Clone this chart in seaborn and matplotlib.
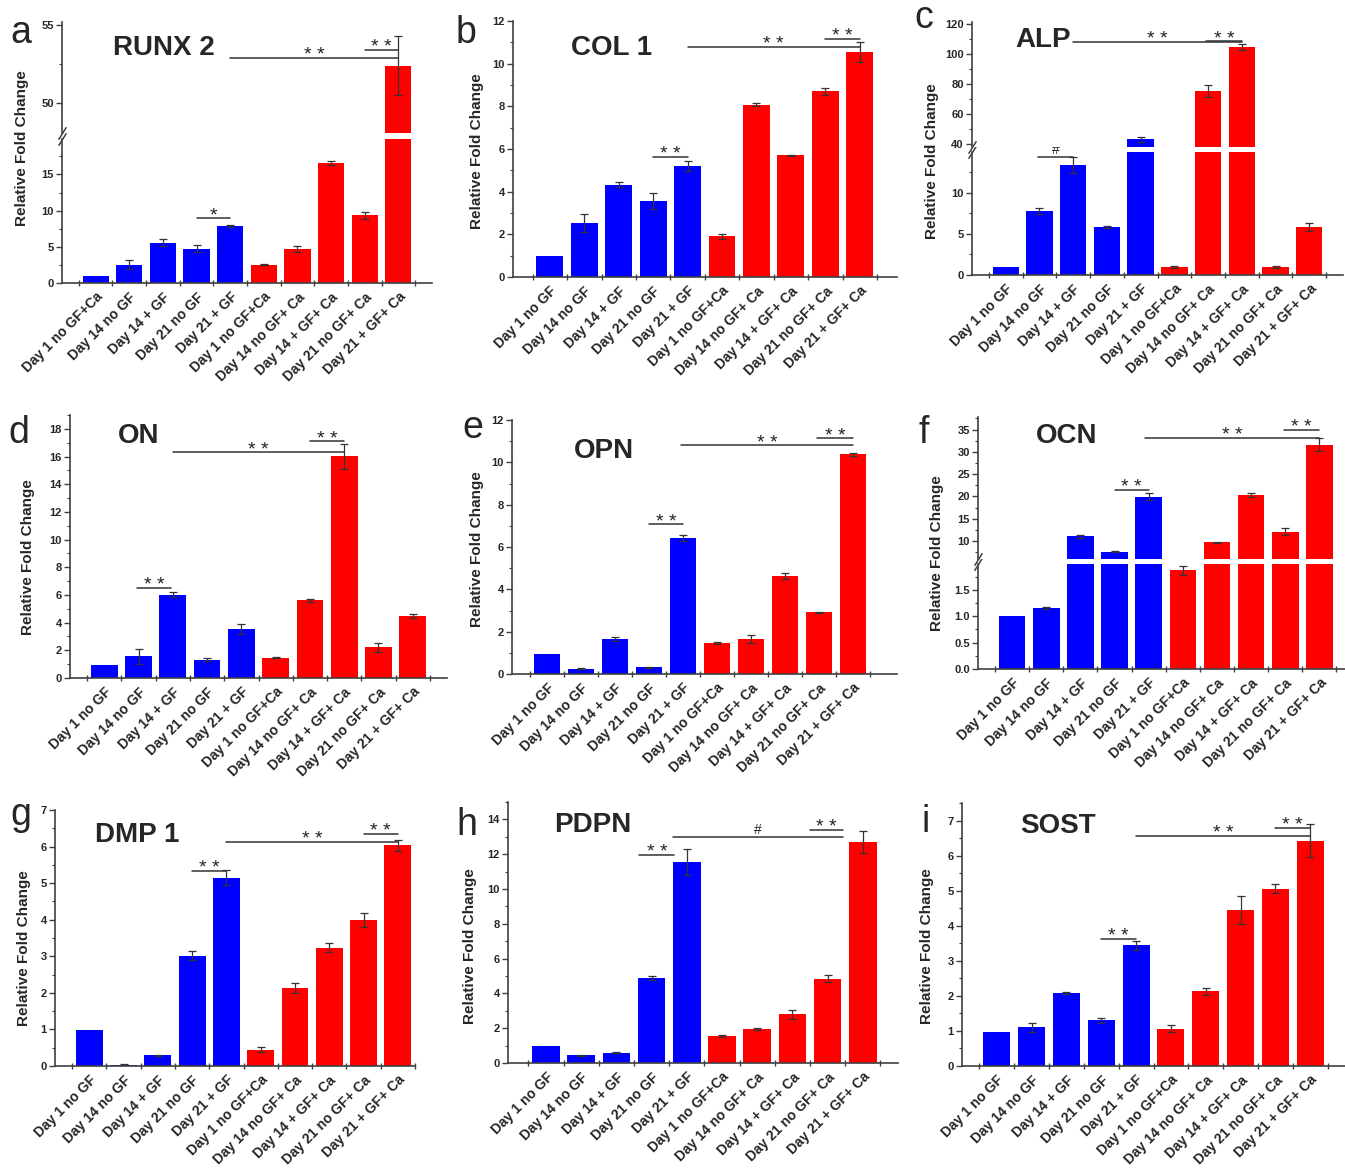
import numpy as np
import matplotlib
matplotlib.use("Agg")
import matplotlib.pyplot as plt
from matplotlib.ticker import MultipleLocator, FormatStrFormatter
import seaborn as sns

sns.set_style("ticks")
plt.rcParams["font.family"] = ["Liberation Sans", "DejaVu Sans"]

# x categories
labels = ["Day 1 no GF", "Day 14 no GF", "Day 14 + GF", "Day 21 no GF", "Day 21 + GF",
          "Day 1 no GF+Ca", "Day 14 no GF+ Ca", "Day 14 + GF+ Ca", "Day 21 no GF+ Ca", "Day 21 + GF+ Ca"]
labels_a = ["Day 1 no GF+Ca"] + labels[1:]
group = ["noCa"] * 5 + ["Ca"] * 5

# gene expression (mean, error)
runx2 = [0.95, 2.55, 5.55, 4.75, 7.85, 2.55, 4.65, 16.55, 9.35, 52.4]
runx2_err = [0, 0.65, 0.5, 0.45, 0.1, 0.08, 0.4, 0.3, 0.5, 1.9]
col1 = [1.0, 2.53, 4.33, 3.55, 5.2, 1.9, 8.08, 5.7, 8.7, 10.55]
col1_err = [0, 0.42, 0.1, 0.38, 0.22, 0.1, 0.07, 0.04, 0.15, 0.45]
alp = [0.95, 7.8, 13.4, 5.85, 43.3, 0.95, 75.3, 104.9, 0.95, 5.85]
alp_err = [0, 0.35, 1.0, 0.08, 1.8, 0.1, 3.8, 2.0, 0.1, 0.5]
on = [0.96, 1.56, 6.03, 1.32, 3.53, 1.47, 5.6, 16.03, 2.21, 4.47]
on_err = [0, 0.55, 0.2, 0.1, 0.38, 0.04, 0.12, 0.9, 0.3, 0.15]
opn = [0.95, 0.25, 1.65, 0.31, 6.43, 1.45, 1.65, 4.63, 2.91, 10.38]
opn_err = [0, 0.02, 0.08, 0.03, 0.15, 0.05, 0.2, 0.15, 0.04, 0.07]
ocn = [1.0, 1.16, 11.1, 7.6, 19.97, 1.87, 9.7, 20.3, 12.15, 31.6]
ocn_err = [0, 0.02, 0.3, 0.1, 0.8, 0.09, 0.1, 0.5, 0.7, 1.5]
dmp1 = [0.99, 0.04, 0.29, 3.02, 5.15, 0.45, 2.13, 3.24, 3.99, 6.04]
dmp1_err = [0, 0.01, 0.02, 0.13, 0.2, 0.08, 0.14, 0.12, 0.18, 0.15]
pdpn = [1.0, 0.44, 0.6, 4.88, 11.57, 1.57, 1.96, 2.8, 4.84, 12.7]
pdpn_err = [0, 0.03, 0.03, 0.12, 0.75, 0.05, 0.05, 0.27, 0.2, 0.63]
sost = [0.97, 1.11, 2.08, 1.3, 3.44, 1.06, 2.13, 4.46, 5.06, 6.43]
sost_err = [0, 0.13, 0.04, 0.06, 0.12, 0.1, 0.1, 0.4, 0.13, 0.48]

# significance brackets: (from bar, to bar, height, mark)
sig_runx2 = [(3, 4, 8.95, "*"), (4, 9, 52.9, "**"), (8, 9, 53.4, "**")]
sig_col1 = [(3, 4, 5.63, "**"), (4, 9, 10.78, "**"), (8, 9, 11.17, "**")]
sig_alp = [(0.95, 2, 14.3, "#"), (2, 7, 107.9, "**"), (5.95, 7, 108.5, "**")]
sig_on = [(0.95, 1.95, 6.5, "**"), (2, 7, 16.3, "**"), (6, 7, 17.1, "**")]
sig_opn = [(3, 4, 7.07, "**"), (3.95, 9, 10.8, "**"), (7.95, 9, 11.13, "**")]
sig_ocn = [(3, 4, 21.5, "**"), (3.9, 9, 33.2, "**"), (7.95, 9, 34.85, "**")]
sig_dmp1 = [(3, 4, 5.33, "**"), (4, 9, 6.13, "**"), (8, 9, 6.34, "**")]
sig_pdpn = [(2.65, 3.65, 11.95, "**"), (3.6, 8.45, 13.0, "#"), (7.5, 8.45, 13.4, "**")]
sig_sost = [(3, 4, 3.63, "**"), (4, 9, 6.57, "**"), (8, 9, 6.78, "**")]

W, H = 1345, 1169
palette = {"noCa": "#0000FF", "Ca": "#FF0000"}
axcol = "#404040"
pos = list(range(10))

fig = plt.figure(figsize=(W / 100, H / 100), dpi=100)


def rect(l, r, t, b):
    return [l / W, 1 - b / H, (r - l) / W, (b - t) / H]


def style_y(ax, major, minor, fmt=None):
    ax.yaxis.set_major_locator(MultipleLocator(major))
    ax.yaxis.set_minor_locator(MultipleLocator(minor))
    if fmt:
        ax.yaxis.set_major_formatter(FormatStrFormatter(fmt))
    ax.tick_params(axis="y", which="major", direction="out", length=4, width=1,
                   color=axcol, labelsize=8, pad=2)
    ax.tick_params(axis="y", which="minor", direction="out", length=2.5, width=0.8, color=axcol)
    for t in ax.get_yticklabels():
        t.set_fontweight("bold")
    for s in ["top", "right"]:
        ax.spines[s].set_visible(False)
    for s in ["left", "bottom"]:
        ax.spines[s].set_color(axcol)
        ax.spines[s].set_linewidth(1.2)


def draw_bars(ax, vals, errs):
    sns.barplot(x=pos, y=vals, hue=group, palette=palette, dodge=False, width=0.78,
                saturation=1, legend=False, ax=ax, errorbar=None, linewidth=0)
    idx = [i for i, e in enumerate(errs) if e > 0]
    ax.errorbar(idx, [vals[i] for i in idx], yerr=[errs[i] for i in idx], fmt="none",
                ecolor="#333333", elinewidth=0.9, capsize=3, capthick=0.9)


def draw_panel(xl, vals, errs, sigs, box, ylo, yt, xlim=(-1, 10), yhi=None, hi_t=None,
               hi_ticks=None, fmt=None):
    l, r, t, b = box
    ax_lo = fig.add_axes(rect(l, r, t, b))
    ax_hi = fig.add_axes(rect(l, r, hi_t[0], hi_t[1])) if yhi is not None else None
    for ax in [ax_lo, ax_hi]:
        if ax is None:
            continue
        draw_bars(ax, vals, errs)
        ax.set_xlim(*xlim)
        ax.set_ylabel("")
        ax.set_xlabel("")
    ax_lo.set_ylim(*ylo)
    style_y(ax_lo, yt[0], yt[1], fmt)
    ax_lo.set_xticks(pos)
    ax_lo.set_xticklabels(xl, rotation=45, ha="right", va="top", rotation_mode="anchor",
                          fontsize=10, fontweight="bold")
    ax_lo.set_xticks(np.arange(-0.5, 10, 1), minor=True)
    ax_lo.tick_params(axis="x", which="major", length=0, pad=5)
    ax_lo.tick_params(axis="x", which="minor", direction="inout", length=5, width=1, color=axcol)
    if ax_hi is not None:
        ax_hi.set_ylim(*yhi)
        style_y(ax_hi, hi_ticks[0], hi_ticks[1])
        ax_hi.spines["bottom"].set_visible(False)
        ax_hi.tick_params(axis="x", which="both", bottom=False, labelbottom=False)
        kw = dict(marker=[(-1, -1.6), (1, 1.6)], markersize=9, linestyle="none",
                  color=axcol, mec=axcol, mew=1.1, clip_on=False)
        ax_hi.plot([0], [0], transform=ax_hi.transAxes, **kw)
        ax_lo.plot([0], [1], transform=ax_lo.transAxes, **kw)
    for x1, x2, y, mark in sigs:
        ax = ax_hi if (ax_hi is not None and y > ylo[1]) else ax_lo
        ax.plot([x1, x2], [y, y], color="#333333", lw=1.1, clip_on=False)
        txt = "* *" if mark == "**" else mark
        star = "*" in mark
        ax.annotate(txt, xy=((x1 + x2) / 2, y), xytext=(0, -4.5 if star else 0),
                    textcoords="offset points", ha="center", va="bottom",
                    fontsize=14 if star else 10, color="#222222", annotation_clip=False)
    return ax_lo


def ftext(x, y, s, **kw):
    fig.text(x / W, 1 - y / H, s, **kw)


# a RUNX 2 (broken axis)
draw_panel(labels_a, runx2, runx2_err, sig_runx2, (62, 432, 139, 283), (0, 19.9), (5, 2.5),
           yhi=(48.1, 55.2), hi_t=(22, 133), hi_ticks=(5, 2.5))
# b COL 1
draw_panel(labels, col1, col1_err, sig_col1, (513, 897, 21, 277), (0, 12), (2, 1), xlim=(-1.07, 10.08))
# c ALP (broken axis)
draw_panel(labels, alp, alp_err, sig_alp, (972, 1343, 152, 275), (0, 14.95), (5, 2.5),
           yhi=(38.2, 121.3), hi_t=(22, 147), hi_ticks=(20, 10))
# d ON
draw_panel(labels, on, on_err, sig_on, (70, 447, 415, 678), (0, 19), (2, 1))
# e OPN
draw_panel(labels, opn, opn_err, sig_opn, (512, 897, 420, 674), (0, 12), (2, 1), xlim=(-1.03, 10.3))
# f OCN (broken axis)
draw_panel(labels, ocn, ocn_err, sig_ocn, (978, 1345, 564, 669), (0, 1.99), (0.5, 0.25),
           xlim=(-1, 9.75), yhi=(6.0, 37.8), hi_t=(417, 559), hi_ticks=(5, 2.5), fmt="%.1f")
# g DMP 1
draw_panel(labels, dmp1, dmp1_err, sig_dmp1, (55, 415, 810, 1066), (0, 7), (1, 0.5), xlim=(-1, 9.45))
# h PDPN
draw_panel(labels, pdpn, pdpn_err, sig_pdpn, (508, 898, 802, 1063), (0, 15), (2, 1), xlim=(-1.08, 10))
# i SOST
draw_panel(labels, sost, sost_err, sig_sost, (962, 1345, 803, 1066), (0, 7.5), (1, 0.5))

# gene names
titles = [("RUNX 2", 164, 55), ("COL 1", 612, 55), ("ALP", 1043, 47),
          ("ON", 139, 443), ("OPN", 604, 458), ("OCN", 1067, 443),
          ("DMP 1", 137, 842), ("PDPN", 593, 832), ("SOST", 1058, 833)]
for s, x, y in titles:
    ftext(x, y, s, ha="center", va="baseline", fontsize=20, fontweight="bold")

# panel letters
letters = [("a", 10, 43), ("b", 456, 43), ("c", 914, 28), ("d", 8, 443), ("e", 462, 438),
           ("f", 918, 443), ("g", 10, 825), ("h", 456, 835), ("i", 922, 832)]
for s, x, y in letters:
    ftext(x, y, s, ha="left", va="baseline", fontsize=27)

# y labels
ylabs = [(22, 148), (477, 151), (932, 161), (28, 557), (477, 549), (937, 553),
         (24, 948), (470, 946), (927, 946)]
for x, y in ylabs:
    ftext(x, y, "Relative Fold Change", rotation=90, ha="center", va="center",
          fontsize=11, fontweight="bold")

fig.savefig("out.png", dpi=100)
